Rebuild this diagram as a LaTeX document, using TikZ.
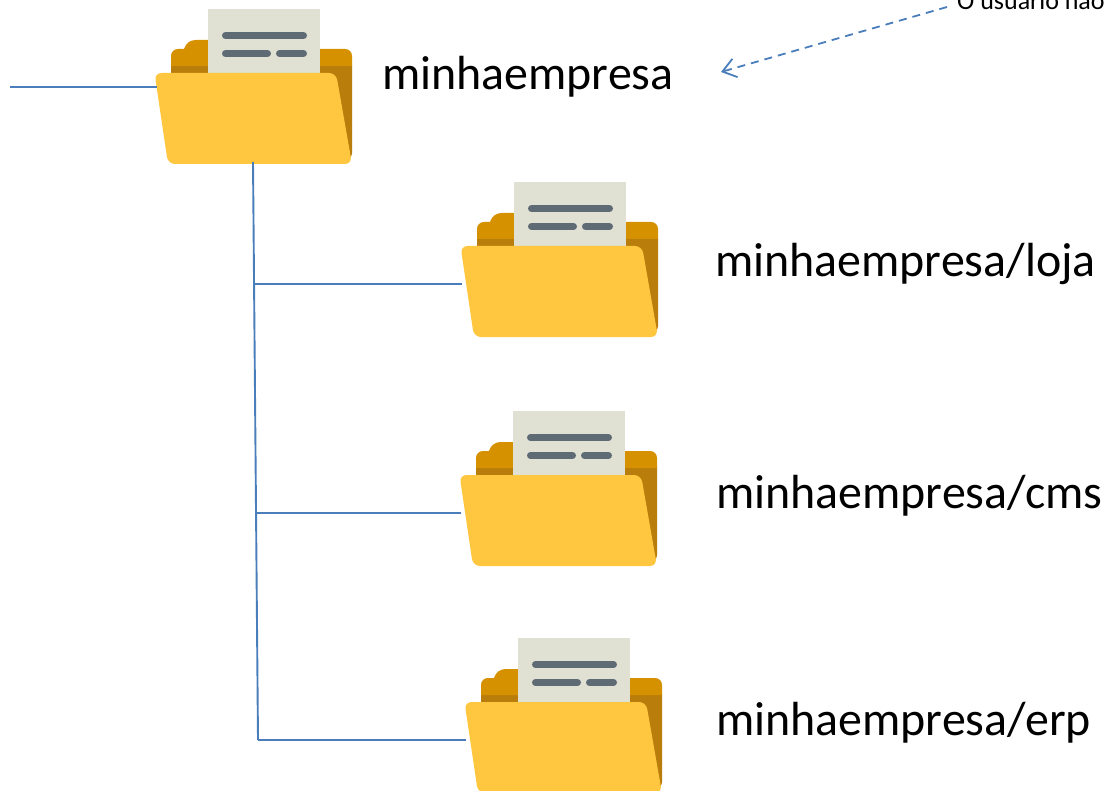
\documentclass[tikz,border=0pt]{standalone}
\usepackage{fontspec}
\setmainfont{Carlito}
\usetikzlibrary{arrows.meta}

\definecolor{foldertab}{HTML}{D69100}
\definecolor{folderdark}{HTML}{B97D0B}
\definecolor{folderfront}{HTML}{FFC63F}
\definecolor{paper}{HTML}{E0E1D3}
\definecolor{paperbar}{HTML}{5E6A74}
\definecolor{linkblue}{HTML}{4A7EBB}

\tikzset{
  link/.style={draw=linkblue,line width=1.9pt},
  label/.style={anchor=base west,inner sep=0pt,font=\fontsize{47.9}{50}\selectfont},
  bar/.style={draw=paperbar,line width=7pt,line cap=round},
  folder/.pic={
    \path[fill=folderdark,rounded corners=6pt] (-37,50) rectangle (144,150);
    \path[fill=foldertab] (-37,57) -- (-37,47) .. controls (-37,43) and (-34,40) .. (-30,40) -- (-24,40) .. controls (-22,34) and (-18,31) .. (-12,31) -- (10,31) -- (10,40) -- (137,40) .. controls (141,40) and (144,43) .. (144,47) -- (144,57) -- cycle;
    \path[fill=paper] (0,0) rectangle (112,66);
    \path[bar] (17.5,26.5) -- (95.5,26.5);
    \path[bar] (17.5,44.5) -- (59.5,44.5);
    \path[bar] (71.5,44.5) -- (95.5,44.5);
    \path[fill=folderfront,rounded corners=7pt] (-53.5,64) -- (128,64) -- (144,155) -- (-40,155) -- cycle;
    \coordinate (-upper) at (-51,78);
    \coordinate (-west) at (-52,102);
    \coordinate (-south) at (45,153);
  }
}

\begin{document}
\begin{tikzpicture}[x=1pt,y=-1pt]

\useasboundingbox (0,0) rectangle (1107,791);
\clip (0,0) rectangle (1107,791);

%root
\pic (froot) at (208,9) {folder};
\node[label] (lroot) at (382,90) {minhaempresa};
\coordinate (in) at (10,87);
\path[link] (in) -- (froot-upper);

%loja
\pic (floja) at (514,182) {folder};
\node[label] (lloja) at (715,277) {minhaempresa/loja};

%cms
\pic (fcms) at (513,411) {folder};
\node[label] (lcms) at (716,508) {minhaempresa/cms};

%erp
\pic (ferp) at (518,638) {folder};
\node[label] (lerp) at (716,735) {minhaempresa/erp};

%tree
\coordinate (jloja) at (254.9,284);
\coordinate (jcms) at (256,513);
\coordinate (jerp) at (258,740);
\path[link] (froot-south) -- (jerp);
\path[link] (jloja) -- (floja-west);
\path[link] (jcms) -- (fcms-west);
\path[link] (jerp) -- (ferp-west);

%note
\node[anchor=base west,inner sep=0pt,font=\fontsize{26}{28}\selectfont] (note) at (957,10) {O usuário não};
\coordinate (tip) at (721,72);
\path[draw=linkblue,line width=1.8pt,dash pattern=on 8pt off 6pt,-{Straight Barb[length=13pt,width=19pt,line width=1.8pt]}] (947,7) -- (tip);

\end{tikzpicture}
\end{document}
